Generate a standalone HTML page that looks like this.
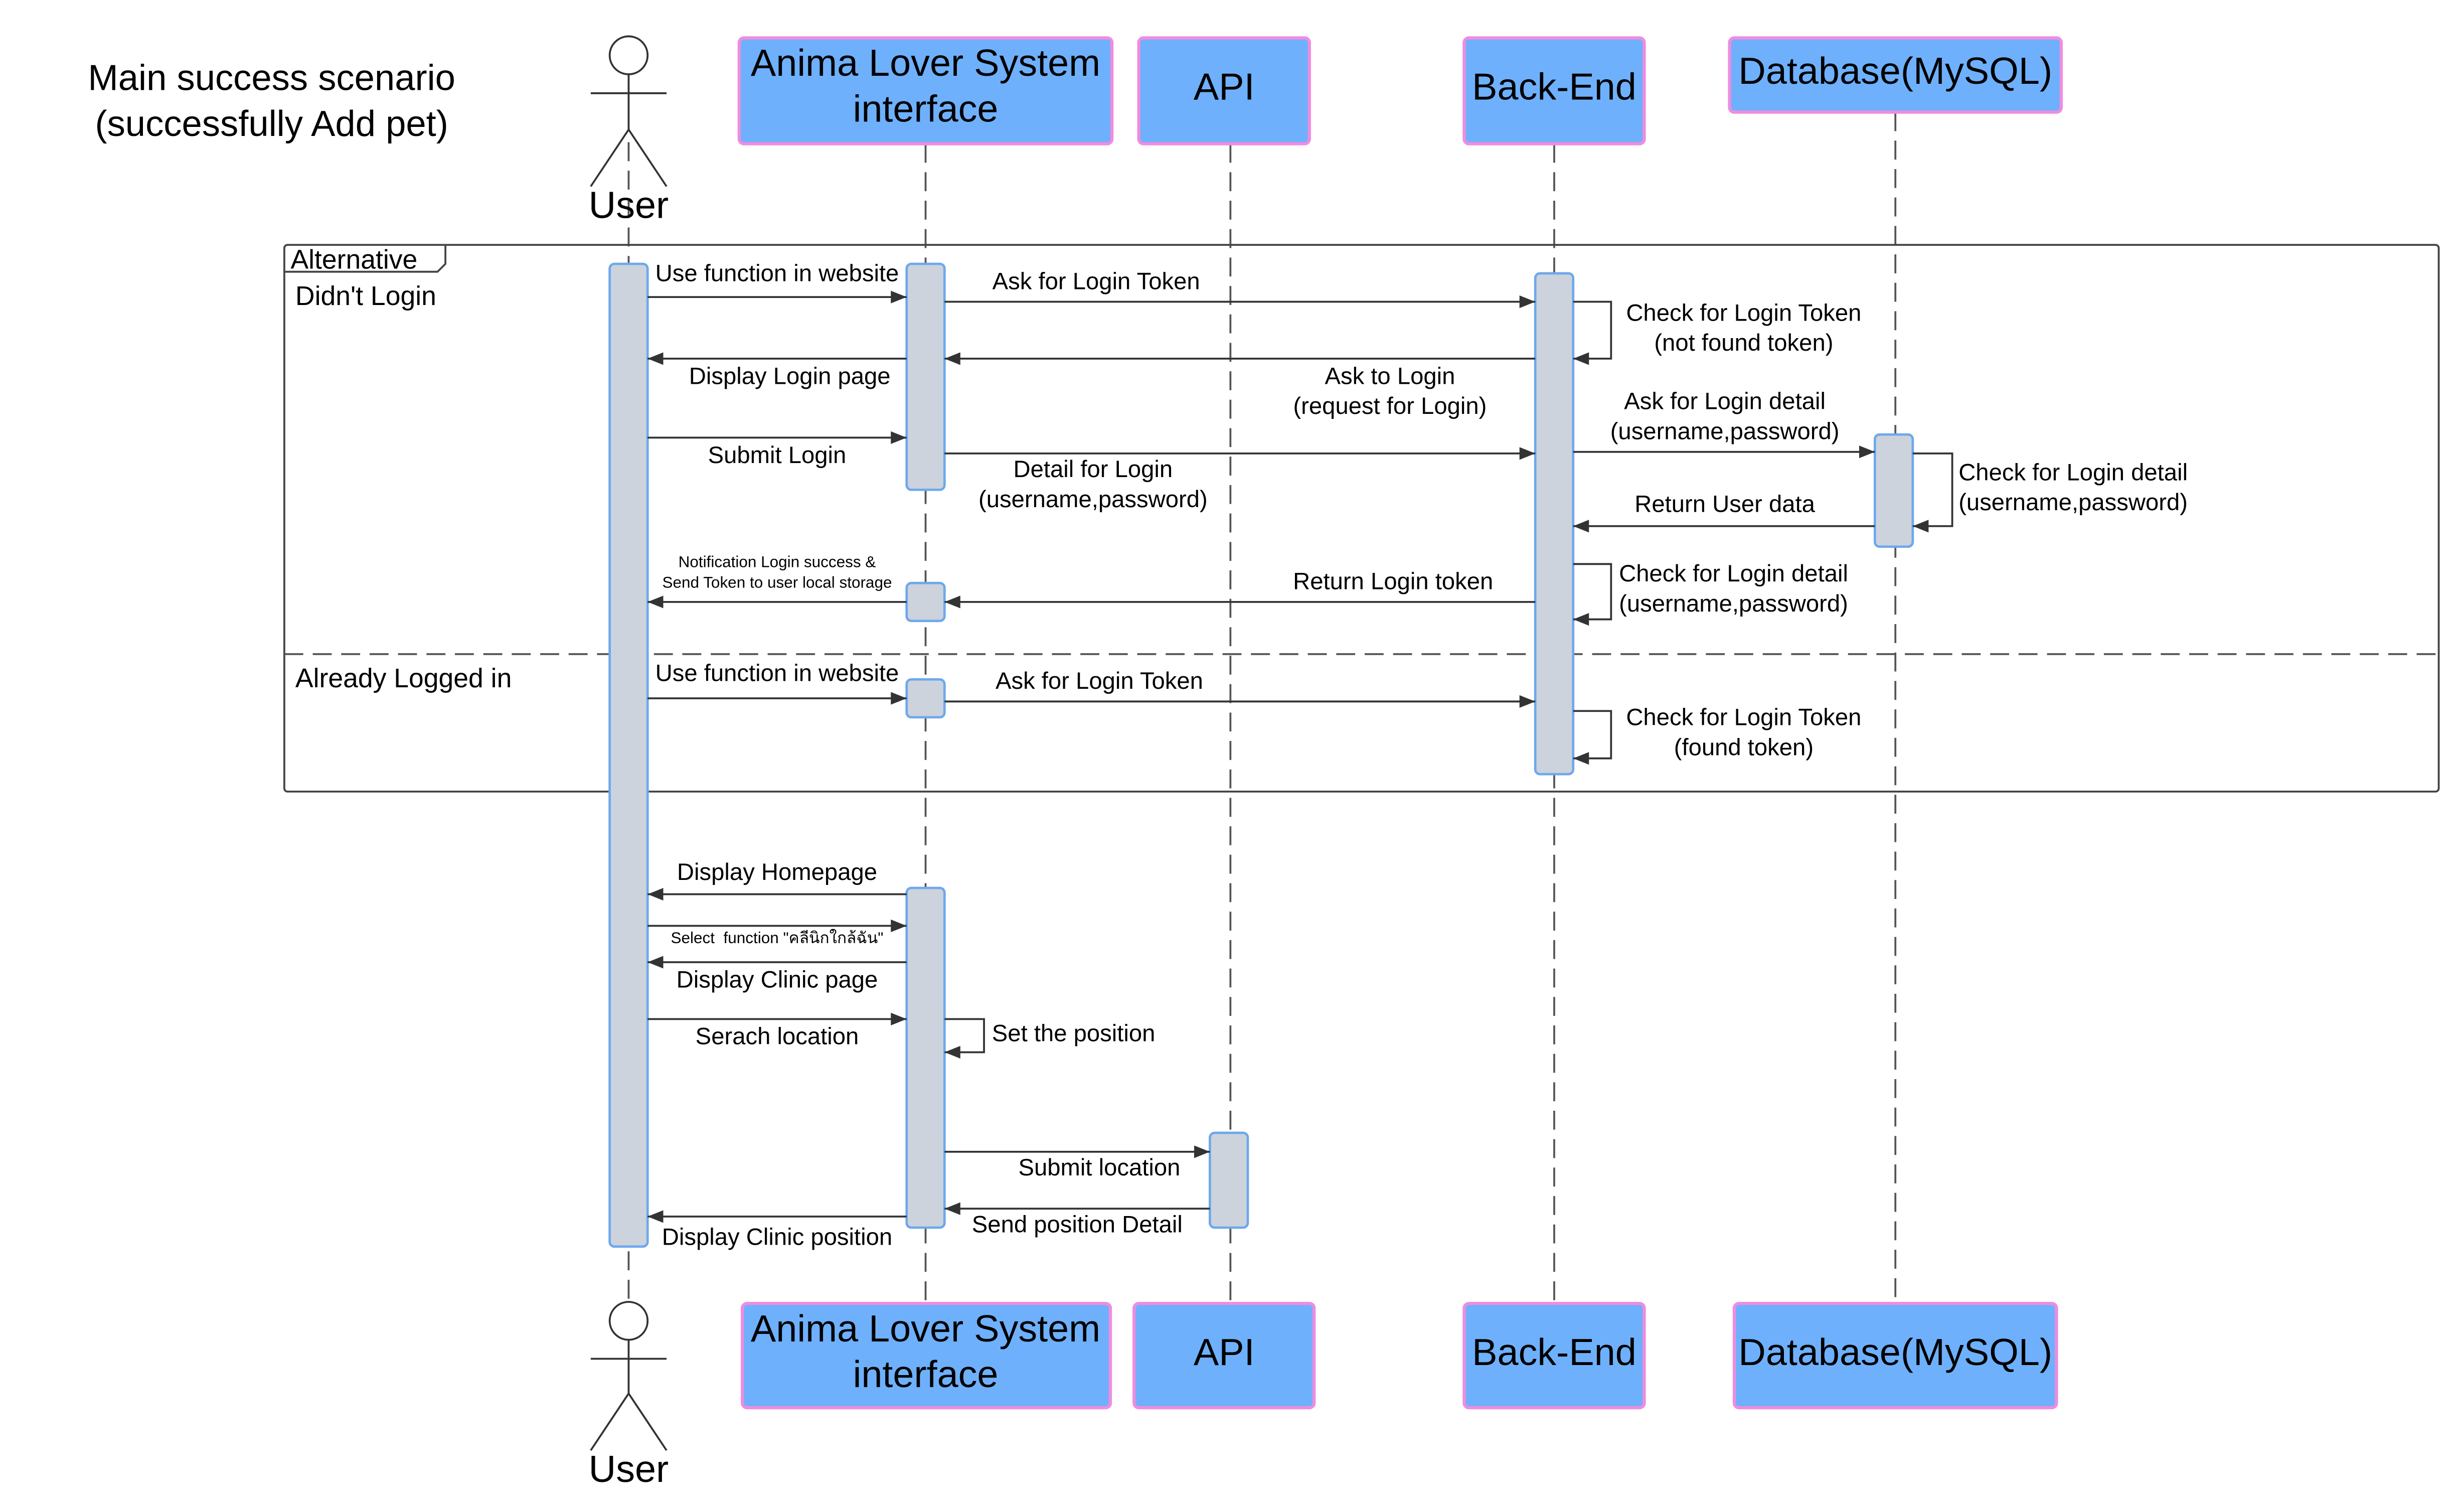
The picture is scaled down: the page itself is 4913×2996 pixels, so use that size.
<!DOCTYPE html>
<html><head><meta charset="utf-8"><style>
html,body{margin:0;padding:0;background:#fff}
svg{display:block}
text{font-family:"Liberation Sans","Noto Sans CJK SC",sans-serif;fill:#000}
</style></head><body>
<svg width="4913" height="2996" viewBox="0 0 1560 951.3" preserveAspectRatio="none" xmlns="http://www.w3.org/2000/svg">
<defs>
<marker id="a" markerWidth="10" markerHeight="8" refX="10" refY="4" orient="auto" markerUnits="userSpaceOnUse"><path d="M0,0 L10,4 L0,8 z" fill="#333"/></marker>
</defs>
<rect width="1560" height="952" fill="#fff"/>
<!-- title -->
<text x="172" y="57" font-size="23" text-anchor="middle">Main success scenario</text>
<text x="172" y="86" font-size="23" text-anchor="middle">(successfully Add pet)</text>

<!-- lifelines -->
<g stroke="#555" stroke-width="1.2" stroke-dasharray="12,6" fill="none">
<line x1="398" y1="90" x2="398" y2="825"/>
<line x1="586" y1="91" x2="586" y2="825"/>
<line x1="779" y1="91" x2="779" y2="825"/>
<line x1="984" y1="91" x2="984" y2="825"/>
<line x1="1200" y1="71" x2="1200" y2="825"/>
</g>

<!-- frame -->
<rect x="180" y="155" width="1364" height="346" fill="none" stroke="#444" stroke-width="1.2" rx="2"/>
<path d="M180,172 L277,172 L282,167 L282,155" fill="none" stroke="#444" stroke-width="1.2"/>
<line x1="180" y1="414" x2="1544" y2="414" stroke="#555" stroke-width="1.2" stroke-dasharray="12,6"/>
<text x="184" y="170" font-size="17">Alternative</text>
<text x="187" y="193" font-size="17">Didn't Login</text>
<text x="187" y="435" font-size="17">Already Logged in</text>

<!-- headers -->
<g fill="#6eb0fc" stroke="#ef8ce0" stroke-width="2">
<rect x="468" y="24" width="236" height="67" rx="3"/>
<rect x="721" y="24" width="108" height="67" rx="3"/>
<rect x="927" y="24" width="114" height="67" rx="3"/>
<rect x="1095" y="24" width="210" height="47" rx="3"/>
<rect x="470" y="825" width="233" height="66" rx="3"/>
<rect x="718" y="825" width="114" height="66" rx="3"/>
<rect x="927" y="825" width="114" height="66" rx="3"/>
<rect x="1098" y="825" width="204" height="66" rx="3"/>
</g>
<g font-size="24" text-anchor="middle">
<text x="586" y="48">Anima Lover System</text>
<text x="586" y="77">interface</text>
<text x="775" y="63">API</text>
<text x="984" y="63">Back-End</text>
<text x="1200" y="53">Database(MySQL)</text>
<text x="586" y="849">Anima Lover System</text>
<text x="586" y="878">interface</text>
<text x="775" y="864">API</text>
<text x="984" y="864">Back-End</text>
<text x="1200" y="864">Database(MySQL)</text>
</g>

<!-- actors -->
<g stroke="#333" stroke-width="1.2" fill="#fff">
<circle cx="398" cy="35" r="12"/>
<line x1="398" y1="47" x2="398" y2="82"/>
<line x1="374" y1="59" x2="422" y2="59"/>
<polyline points="374,118 398,82 422,118" fill="none"/>
<circle cx="398" cy="836" r="12"/>
<line x1="398" y1="848" x2="398" y2="882"/>
<line x1="374" y1="860" x2="422" y2="860"/>
<polyline points="374,918 398,882 422,918" fill="none"/>
</g>
<text x="398" y="138" font-size="24" text-anchor="middle">User</text>
<text x="398" y="938" font-size="24" text-anchor="middle">User</text>

<!-- activations -->
<g fill="#ccd3dc" stroke="#6ea8ec" stroke-width="1.5">
<rect x="386" y="167" width="24" height="622" rx="3"/>
<rect x="574" y="167" width="24" height="143" rx="3"/>
<rect x="574" y="369" width="24" height="24" rx="3"/>
<rect x="574" y="430" width="24" height="24" rx="3"/>
<rect x="574" y="562" width="24" height="215" rx="3"/>
<rect x="972" y="173" width="24" height="317" rx="3"/>
<rect x="1187" y="275" width="24" height="71" rx="3"/>
<rect x="766" y="717" width="24" height="60" rx="3"/>
</g>

<!-- messages -->
<g stroke="#333" stroke-width="1.2" fill="none" marker-end="url(#a)">
<line x1="410" y1="188" x2="574" y2="188"/>
<line x1="598" y1="191" x2="972" y2="191"/>
<polyline points="996,191 1020,191 1020,227 996,227"/>
<line x1="972" y1="227" x2="598" y2="227"/>
<line x1="574" y1="227" x2="410" y2="227"/>
<line x1="410" y1="277" x2="574" y2="277"/>
<line x1="598" y1="287" x2="972" y2="287"/>
<line x1="996" y1="286" x2="1187" y2="286"/>
<polyline points="1211,287 1236,287 1236,333 1211,333"/>
<line x1="1187" y1="333" x2="996" y2="333"/>
<polyline points="996,357 1020,357 1020,392 996,392"/>
<line x1="972" y1="381" x2="598" y2="381"/>
<line x1="574" y1="381" x2="410" y2="381"/>
<line x1="410" y1="442" x2="574" y2="442"/>
<line x1="598" y1="444" x2="972" y2="444"/>
<polyline points="996,450 1020,450 1020,480 996,480"/>
<line x1="574" y1="566" x2="410" y2="566"/>
<line x1="410" y1="586" x2="574" y2="586"/>
<line x1="574" y1="609" x2="410" y2="609"/>
<line x1="410" y1="645" x2="574" y2="645"/>
<polyline points="598,645 623,645 623,666 598,666"/>
<line x1="598" y1="729" x2="766" y2="729"/>
<line x1="766" y1="765" x2="598" y2="765"/>
<line x1="574" y1="770" x2="410" y2="770"/>
</g>

<g font-size="15" text-anchor="middle">
<text x="492" y="178">Use function in website</text>
<text x="694" y="183">Ask for Login Token</text>
<text x="1104" y="203">Check for Login Token</text>
<text x="1104" y="222">(not found token)</text>
<text x="880" y="243">Ask to Login</text>
<text x="880" y="262">(request for Login)</text>
<text x="500" y="243">Display Login page</text>
<text x="492" y="293">Submit Login</text>
<text x="692" y="302">Detail for Login</text>
<text x="692" y="321">(username,password)</text>
<text x="1092" y="259">Ask for Login detail</text>
<text x="1092" y="278">(username,password)</text>
<text x="1092" y="324">Return User data</text>
<text x="882" y="373">Return Login token</text>
<text x="492" y="431">Use function in website</text>
<text x="696" y="436">Ask for Login Token</text>
<text x="1104" y="459">Check for Login Token</text>
<text x="1104" y="478">(found token)</text>
<text x="492" y="557">Display Homepage</text>
<text x="492" y="625">Display Clinic page</text>
<text x="492" y="661">Serach location</text>
<text x="696" y="744">Submit  location</text>
<text x="682" y="780">Send position Detail</text>
<text x="492" y="788">Display Clinic position</text>
</g>
<g font-size="15">
<text x="1240" y="304">Check for Login detail</text>
<text x="1240" y="323">(username,password)</text>
<text x="1025" y="368">Check for Login detail</text>
<text x="1025" y="387">(username,password)</text>
<text x="628" y="659">Set the position</text>
</g>
<g font-size="10" text-anchor="middle">
<text x="492" y="359">Notification Login success &amp;</text>
<text x="492" y="372">Send Token to user local storage</text>
<text x="492" y="597" style="white-space:pre" xml:space="preserve">Select  function "คลีนิกใกล้ฉัน"</text>
</g>
</svg>
</body></html>
